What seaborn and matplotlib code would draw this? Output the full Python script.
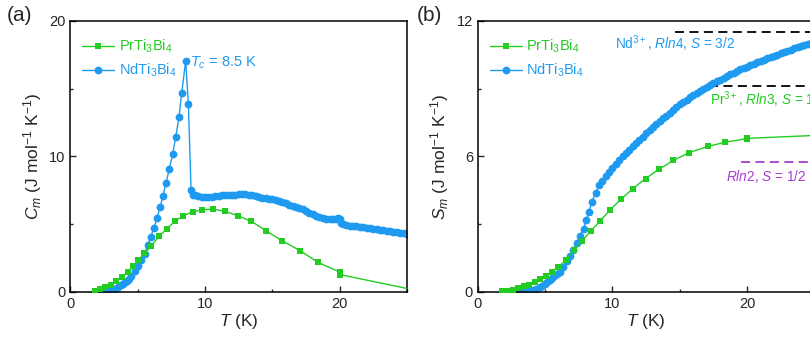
import matplotlib
matplotlib.use("Agg")
import numpy as np
import pandas as pd
import seaborn as sns
from matplotlib import pyplot as plt
from matplotlib.ticker import MultipleLocator

# colours
GREEN = "#22cc22"
BLUE = "#1e9bf0"
PURPLE = "#a83cd0"

# PrTi3Bi4 (same temperatures in both panels)
pr_T = [1.8, 2.2, 2.6, 3.0, 3.4, 3.8, 4.25, 4.65, 5.05, 5.5, 5.96, 6.58, 7.15, 7.74,
        8.39, 9.08, 9.8, 10.62, 11.49, 12.46, 13.45, 14.52, 15.71, 17.07, 18.39,
        20.0, 20.02, 25.5]
pr_C = [0.1, 0.2, 0.35, 0.54, 0.78, 1.1, 1.44, 1.89, 2.33, 2.85, 3.36, 4.1, 4.64, 5.2,
        5.62, 5.91, 6.06, 6.11, 5.94, 5.62, 5.2, 4.52, 3.78, 3.04, 2.18,
        1.47, 1.28, 0.15]
pr_S = [0.02, 0.05, 0.1, 0.17, 0.24, 0.32, 0.44, 0.56, 0.7, 0.9, 1.1, 1.43, 1.86, 2.25,
        2.7, 3.14, 3.62, 4.1, 4.56, 5.02, 5.43, 5.82, 6.17, 6.44, 6.63,
        6.79, 6.8, 6.94]

# NdTi3Bi4, heat capacity
nd_T_c = [1.8, 1.95, 2.1, 2.25, 2.4, 2.55, 2.7, 2.85, 3.0, 3.15, 3.3, 3.45, 3.6, 3.75,
          3.9, 4.05, 4.23, 4.38, 4.53, 4.78, 5.03, 5.27, 5.51, 5.73, 5.96, 6.2, 6.43,
          6.65, 6.87, 7.1, 7.34, 7.59, 7.82, 8.06, 8.26, 8.56, 8.76, 8.96, 9.13,
          9.25, 9.5, 9.75, 10.0, 10.25, 10.5, 10.75, 11.0, 11.25, 11.5, 11.75, 12.0,
          12.25, 12.5, 12.75, 13.0, 13.25, 13.5, 13.75, 14.0, 14.25, 14.5, 14.75, 15.0,
          15.25, 15.5, 15.75, 16.0, 16.25, 16.5, 16.75, 17.0, 17.25, 17.5, 17.75, 18.0,
          18.25, 18.5, 18.75, 19.0, 19.25, 19.5, 19.75, 19.9, 20.0, 20.1, 20.25, 20.5,
          20.75, 21.0, 21.25, 21.5, 21.75, 22.0, 22.25, 22.5, 22.75, 23.0, 23.25, 23.5,
          23.75, 24.0, 24.25, 24.5, 24.75, 25.0, 25.25]
nd_C = [0.0, 0.0, 0.01, 0.02, 0.03, 0.05, 0.07, 0.1, 0.14, 0.19, 0.25, 0.32, 0.4, 0.5,
        0.6, 0.71, 0.84, 0.98, 1.15, 1.52, 1.89, 2.33, 2.82, 3.44, 4.07, 4.71, 5.45,
        6.23, 7.07, 8.05, 9.06, 10.16, 11.43, 12.88, 14.65, 17.05, 13.9, 7.53, 7.17,
        7.12, 7.05, 7.0, 6.98, 7.0, 7.04, 7.08, 7.1, 7.12, 7.13, 7.15, 7.17,
        7.18, 7.2, 7.2, 7.2, 7.18, 7.15, 7.08, 7.0, 6.95, 6.9, 6.85, 6.82,
        6.78, 6.72, 6.65, 6.55, 6.45, 6.35, 6.25, 6.18, 6.1, 5.98, 5.85, 5.74,
        5.62, 5.5, 5.44, 5.4, 5.38, 5.37, 5.38, 5.45, 5.4, 5.05, 5.0, 4.95,
        4.9, 4.86, 4.83, 4.8, 4.76, 4.72, 4.69, 4.65, 4.62, 4.58, 4.54, 4.5,
        4.47, 4.43, 4.4, 4.37, 4.34, 4.3, 4.28]

# NdTi3Bi4, entropy
nd_T_s = [1.8, 2.1, 2.4, 2.7, 3.0, 3.3, 3.6, 3.85, 4.08, 4.33, 4.58, 4.78, 4.95, 5.15,
          5.32, 5.5, 5.69, 5.88, 6.07, 6.31, 6.61, 6.86, 7.1, 7.35, 7.6, 7.85, 8.05,
          8.24, 8.47, 8.74, 9.03,
          9.25, 9.5, 9.75, 10.0, 10.25, 10.5, 10.75, 11.0, 11.25, 11.5, 11.75, 12.0,
          12.25, 12.5, 12.75, 13.0, 13.25, 13.5, 13.75, 14.0, 14.25, 14.5, 14.75, 15.0,
          15.25, 15.5, 15.75, 16.0, 16.25, 16.5, 16.75, 17.0, 17.25, 17.5, 17.75, 18.0,
          18.25, 18.5, 18.75, 19.0, 19.25, 19.5, 19.75, 20.0, 20.25, 20.5, 20.75, 21.0,
          21.25, 21.5, 21.75, 22.0, 22.25, 22.5, 22.75, 23.0, 23.25, 23.5, 23.75, 24.0,
          24.25, 24.5, 24.75, 25.0, 25.25]
nd_S = [0.0, 0.0, 0.0, 0.01, 0.01, 0.02, 0.03, 0.05, 0.08, 0.13, 0.2, 0.27, 0.33, 0.42,
        0.51, 0.6, 0.69, 0.78, 0.88, 1.1, 1.35, 1.6, 1.87, 2.17, 2.49, 2.8, 3.17,
        3.52, 4.0, 4.37, 4.74,
        4.92, 5.12, 5.32, 5.5, 5.68, 5.84, 6.0, 6.15, 6.3, 6.45, 6.6, 6.74,
        6.88, 7.02, 7.16, 7.29, 7.42, 7.55, 7.68, 7.81, 7.93, 8.05, 8.18, 8.3,
        8.42, 8.52, 8.62, 8.72, 8.81, 8.9, 8.99, 9.08, 9.16, 9.24, 9.32, 9.4,
        9.48, 9.56, 9.64, 9.71, 9.78, 9.85, 9.92, 9.98, 10.04, 10.1, 10.16, 10.22,
        10.28, 10.34, 10.4, 10.46, 10.51, 10.57, 10.62, 10.68, 10.73, 10.78, 10.83, 10.88,
        10.93, 10.98, 11.03, 11.08, 11.12]

# R ln(2J+1) reference levels
ref_levels = [11.53, 9.13, 5.76]
ref_start = [14.65, 17.2, 19.55]
ref_colors = ["black", "black", PURPLE]
ref_texts = ["Nd$^{3+}$, $Rln$4, $S$ = 3/2", "Pr$^{3+}$, $Rln$3, $S$ = 1", "$Rln$2, $S$ = 1/2"]
ref_text_pos = [(10.15, 10.97), (17.27, 8.5), (18.45, 5.1)]
ref_text_colors = [BLUE, GREEN, PURPLE]

sns.set_style("ticks")
plt.rcParams['font.family'] = ['Liberation Sans', 'DejaVu Sans']
plt.rcParams['mathtext.fontset'] = 'custom'
plt.rcParams['mathtext.rm'] = 'Liberation Sans'
plt.rcParams['mathtext.it'] = 'Liberation Sans:italic'
plt.rcParams['mathtext.bf'] = 'Liberation Sans:bold'

fig = plt.figure(figsize=(8.1, 3.43), dpi=100)
ax1 = fig.add_axes([0.087, 0.149, 0.4154, 0.790])
ax2 = fig.add_axes([0.590, 0.149, 0.4154, 0.790])

pr_df = pd.DataFrame({"T": pr_T, "C": pr_C, "S": pr_S})
ndc_df = pd.DataFrame({"T": nd_T_c, "C": nd_C})
nds_df = pd.DataFrame({"T": nd_T_s, "S": nd_S})


def draw(ax, nd_df, pr_col, nd_col):
    sns.lineplot(data=pr_df, x="T", y=pr_col, ax=ax, color=GREEN, marker="s",
                 markersize=4.3, markeredgewidth=0, linewidth=1.0,
                 estimator=None, sort=False, label="PrTi$_3$Bi$_4$", zorder=3)
    sns.lineplot(data=nd_df, x="T", y=nd_col, ax=ax, color=BLUE, marker="o",
                 markersize=5.6, markeredgewidth=0, linewidth=1.0,
                 estimator=None, sort=False, label="NdTi$_3$Bi$_4$", zorder=2)
    ax.set_xlim(0, 25)
    ax.xaxis.set_major_locator(MultipleLocator(10))
    ax.xaxis.set_minor_locator(MultipleLocator(5))
    ax.tick_params(which="both", direction="in", top=False, right=False,
                   labelsize=10.5, width=1.0)
    ax.tick_params(which="major", length=4)
    ax.tick_params(which="minor", length=2.5)
    for sp in ax.spines.values():
        sp.set_linewidth(1.1)
        sp.set_color("black")
    ax.set_xlabel("$T$ (K)", fontsize=12.5, labelpad=1)
    leg = ax.legend(loc="upper left", frameon=False, fontsize=10.5,
                    handlelength=2.2, handletextpad=0.3, labelspacing=0.45,
                    borderaxespad=0.4, bbox_to_anchor=(0.0, 0.98))
    for txt, c in zip(leg.get_texts(), [GREEN, BLUE]):
        txt.set_color(c)


draw(ax1, ndc_df, "C", "C")
ax1.set_ylim(0, 20)
ax1.yaxis.set_major_locator(MultipleLocator(10))
ax1.yaxis.set_minor_locator(MultipleLocator(5))
ax1.set_ylabel("$C_m$ (J mol$^{-1}$ K$^{-1}$)", fontsize=12.5, labelpad=4)
ax1.text(8.9, 16.9, "$T_c$ = 8.5 K", color=BLUE, fontsize=10.5, ha="left", va="center")

draw(ax2, nds_df, "S", "S")
ax2.set_ylim(0, 12)
ax2.yaxis.set_major_locator(MultipleLocator(6))
ax2.yaxis.set_minor_locator(MultipleLocator(3))
ax2.set_ylabel("$S_m$ (J mol$^{-1}$ K$^{-1}$)", fontsize=12.5, labelpad=4)
for lev, x0, c in zip(ref_levels, ref_start, ref_colors):
    ax2.hlines(lev, x0, 26, colors=c, linestyles=(0, (5, 3)), linewidth=1.3, zorder=1)
for t, (x, y), c in zip(ref_texts, ref_text_pos, ref_text_colors):
    ax2.text(x, y, t, color=c, fontsize=9.8, ha="left", va="center")

fig.text(0.008, 0.955, "(a)", fontsize=15, va="center", ha="left")
fig.text(0.514, 0.955, "(b)", fontsize=15, va="center", ha="left")

fig.savefig("out.png", dpi=100)
